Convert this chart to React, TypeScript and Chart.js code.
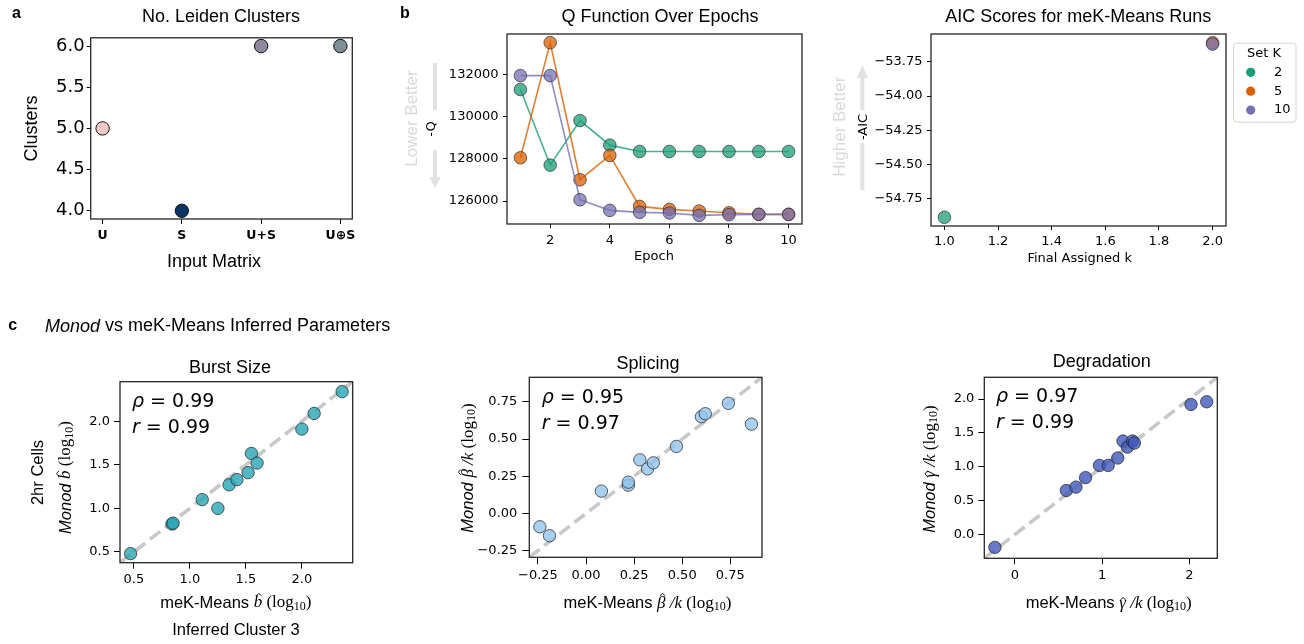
import React, { useEffect, useRef } from "react";
import { Chart, registerables } from "chart.js";
Chart.register(...registerables);

const SANS = '"Liberation Sans", Arial, sans-serif';
const DV = '"DejaVu Sans", sans-serif';
const SERIF = '"Liberation Serif", "DejaVu Serif", serif';

// ---------- data ----------
const leidenMatrices = ["U", "S", "U+S", "U\u2295S"];
const leidenClusters = [5, 4, 6, 6];
const leidenColors = ["#f9c8c5", "#0b3465", "#8e889f", "#7e8f95"];
const leidenYTicks = [4.0, 4.5, 5.0, 5.5, 6.0];

const epochs = [1, 2, 3, 4, 5, 6, 7, 8, 9, 10];
const qSetK2 = [131290, 127705, 129821, 128652, 128353, 128353, 128353, 128353, 128353, 128353];
const qSetK5 = [128053, 133516, 127011, 128163, 125747, 125605, 125526, 125447, 125368, 125368];
const qSetK10 = [131953, 131953, 126063, 125558, 125463, 125432, 125321, 125353, 125368, 125368];
const qXTicks = [2, 4, 6, 8, 10];
const qYTicks = [126000, 128000, 130000, 132000];

const setKLabels = ["2", "5", "10"];
const setKColors = ["#1b9e77", "#d95f02", "#7570b3"];
const aicFinalK = [1, 2, 2];
const aicNegScore = [-54.885, -53.61, -53.62];
const aicXTicks = [1.0, 1.2, 1.4, 1.6, 1.8, 2.0];
const aicYTicks = [-54.75, -54.5, -54.25, -54.0, -53.75];

const burstMek = [0.47, 0.84, 0.85, 1.11, 1.25, 1.35, 1.42, 1.52, 1.55, 1.6, 2.0, 2.11, 2.36];
const burstMonod = [0.48, 0.82, 0.83, 1.1, 1.0, 1.27, 1.33, 1.41, 1.63, 1.52, 1.91, 2.09, 2.34];
const splicingMek = [-0.24, -0.19, 0.08, 0.22, 0.22, 0.28, 0.32, 0.35, 0.47, 0.6, 0.62, 0.74, 0.86];
const splicingMonod = [-0.09, -0.15, 0.15, 0.19, 0.21, 0.36, 0.3, 0.34, 0.45, 0.65, 0.67, 0.74, 0.6];
const degradationMek = [-0.23, 0.59, 0.7, 0.81, 0.97, 1.07, 1.18, 1.24, 1.29, 1.35, 1.37, 2.02, 2.2];
const degradationMonod = [-0.19, 0.65, 0.7, 0.84, 1.02, 1.02, 1.13, 1.38, 1.29, 1.38, 1.35, 1.92, 1.96];
const burstTicks = [0.5, 1.0, 1.5, 2.0];
const splicingTicks = [-0.25, 0, 0.25, 0.5, 0.75];
const degradationXTicks = [0, 1, 2];
const degradationYTicks = [0, 0.5, 1.0, 1.5, 2.0];
const corrRho = ["0.99", "0.95", "0.97"];
const corrPearson = ["0.99", "0.97", "0.99"];

// ---------- helpers ----------
type Hat = { size: number; lift: number; dx: number };
type Part = { t: string; f: string; dy?: number; hat?: Hat };
type Deco =
  | { k: "text"; x: number; y: number; parts: Part[]; align: string; rot: number; c: string }
  | { k: "line"; x1: number; y1: number; x2: number; y2: number; w: number; c: string }
  | { k: "tri"; pts: number[]; c: string };

const P = (t: string, f: string, dy = 0, hat?: Hat): Part => ({ t, f, dy, hat });
const T = (x: number, y: number, parts: Part[], align = "center", rot = 0, c = "#000"): Deco => ({
  k: "text", x, y, parts, align, rot, c,
});
const font = (size: number, fam: string, style = "") => `${style} ${size}px ${fam}`.trim();

function rgba(hex: string, a: number) {
  const n = parseInt(hex.slice(1), 16);
  return `rgba(${(n >> 16) & 255},${(n >> 8) & 255},${n & 255},${a})`;
}
function fmt(v: number, d: number) {
  const s = Math.abs(v).toFixed(d);
  return (v < -1e-9 ? "\u2212" : "") + s;
}
function lims(...arrs: number[][]) {
  const all = arrs.flat();
  const lo = Math.min(...all), hi = Math.max(...all);
  const m = (hi - lo) * 0.05;
  return [lo - m, hi + m];
}

function decoPlugin(items: Deco[], ox: number, oy: number) {
  return {
    id: "deco",
    afterDraw(chart: any) {
      const ctx = chart.ctx as CanvasRenderingContext2D;
      for (const it of items) {
        ctx.save();
        if (it.k === "text") {
          ctx.translate(it.x - ox, it.y - oy);
          if (it.rot) ctx.rotate((it.rot * Math.PI) / 180);
          ctx.textBaseline = "middle";
          ctx.textAlign = "left";
          ctx.fillStyle = it.c;
          ctx.strokeStyle = it.c;
          let w = 0;
          for (const p of it.parts) { ctx.font = p.f; w += ctx.measureText(p.t).width; }
          let cx = it.align === "center" ? -w / 2 : it.align === "right" ? -w : 0;
          for (const p of it.parts) {
            ctx.font = p.f;
            const pw = ctx.measureText(p.t).width;
            ctx.fillText(p.t, cx, p.dy || 0);
            if (p.hat) {
              const s = p.hat.size;
              const hx = cx + pw / 2 + p.hat.dx * s;
              const hb = -p.hat.lift * s;
              ctx.lineWidth = 0.9;
              ctx.beginPath();
              ctx.moveTo(hx - 0.16 * s, hb);
              ctx.lineTo(hx, hb - 0.14 * s);
              ctx.lineTo(hx + 0.16 * s, hb);
              ctx.stroke();
            }
            cx += pw;
          }
        } else if (it.k === "line") {
          ctx.strokeStyle = it.c;
          ctx.lineWidth = it.w;
          ctx.beginPath();
          ctx.moveTo(it.x1 - ox, it.y1 - oy);
          ctx.lineTo(it.x2 - ox, it.y2 - oy);
          ctx.stroke();
        } else {
          ctx.fillStyle = it.c;
          ctx.beginPath();
          for (let i = 0; i < it.pts.length; i += 2) {
            const x = it.pts[i] - ox, y = it.pts[i + 1] - oy;
            if (i === 0) ctx.moveTo(x, y); else ctx.lineTo(x, y);
          }
          ctx.closePath();
          ctx.fill();
        }
        ctx.restore();
      }
    },
  };
}

const boxPlugin = {
  id: "box",
  afterDraw(chart: any) {
    const { left, top, right, bottom } = chart.chartArea;
    const ctx = chart.ctx;
    ctx.save();
    ctx.strokeStyle = "#262626";
    ctx.lineWidth = 1.3;
    ctx.strokeRect(left, top, right - left, bottom - top);
    ctx.restore();
  },
};

type Area = { left: number; top: number; right: number; bottom: number };

function axis(
  min: number, max: number, ticks: number[], label: (v: number) => string,
  fit: (s: any) => void, tickFont: any, tickLen: number, pad: number
) {
  return {
    type: "linear",
    min, max,
    afterBuildTicks: (s: any) => { s.ticks = ticks.map((v) => ({ value: v })); },
    afterFit: fit,
    ticks: { callback: (v: any) => label(Number(v)), font: tickFont, color: "#000", padding: pad, autoSkip: false, maxRotation: 0, minRotation: 0 },
    grid: { display: true, drawOnChartArea: false, drawTicks: true, tickLength: tickLen, tickColor: "#000", tickWidth: 1, color: "#000" },
    border: { display: false },
  };
}

function baseOptions(area: Area, W: number, H: number, scales: any) {
  return {
    animation: false,
    responsive: false,
    devicePixelRatio: 1,
    layout: { padding: { left: 0, top: area.top, right: W - area.right, bottom: 0 } },
    plugins: { legend: { display: false }, tooltip: { enabled: false }, title: { display: false } },
    scales,
  };
}

const tf = (size: number) => ({ family: DV, size });

// ---------- panel builders ----------
function buildLeiden(c: HTMLCanvasElement, ox: number, oy: number, W: number, H: number) {
  const area = { left: 90.7, top: 37.8, right: 352.3, bottom: 219 };
  const decos: Deco[] = [
    T(12, 13.5, [P("a", font(16, SANS, "bold"))], "left"),
    T(221, 17, [P("No. Leiden Clusters", font(18, SANS))]),
    T(31.7, 128.4, [P("Clusters", font(18, SANS))], "center", -90),
    T(214, 262.5, [P("Input Matrix", font(18, SANS))]),
  ];
  const [ylo, yhi] = lims(leidenClusters);
  return new Chart(c, {
    type: "scatter",
    data: {
      datasets: [{
        data: leidenClusters.map((v, i) => ({ x: i, y: v })),
        pointBackgroundColor: leidenColors,
        pointBorderColor: "#111",
        pointBorderWidth: 1,
        pointRadius: 6.7,
        clip: false,
      }],
    },
    options: baseOptions(area, W, H, {
      x: axis(-0.15, 3.15, [0, 1, 2, 3], (v) => leidenMatrices[Math.round(v)], (s) => { s.height = H - area.bottom; }, { family: DV, size: 12.5, weight: "bold" }, 5, 4.5),
      y: axis(ylo, yhi, leidenYTicks, (v) => v.toFixed(1), (s) => { s.width = area.left; }, tf(18), 4, 2),
    }) as any,
    plugins: [boxPlugin, decoPlugin(decos, ox, oy)],
  } as any);
}

function buildQ(c: HTMLCanvasElement, ox: number, oy: number, W: number, H: number) {
  const area = { left: 507, top: 34, right: 802, bottom: 224 };
  const a = { left: area.left - ox, top: area.top - oy, right: area.right - ox, bottom: area.bottom - oy };
  const grey = "#e2e2e2";
  const decos: Deco[] = [
    T(400, 13.5, [P("b", font(16, SANS, "bold"))], "left"),
    T(660, 17, [P("Q Function Over Epochs", font(18, SANS))]),
    T(654, 257, [P("Epoch", font(13, DV))]),
    T(432, 129, [P("-Q", font(13, DV))], "center", -90),
    T(412, 118.5, [P("Lower Better", font(17, SANS))], "center", -90, "#d9d9d9"),
    { k: "line", x1: 435, y1: 63, x2: 435, y2: 110, w: 4, c: grey },
    { k: "line", x1: 435, y1: 150, x2: 435, y2: 178, w: 4, c: grey },
    { k: "tri", pts: [429.3, 177, 440.7, 177, 435, 188], c: grey },
  ];
  const series = [qSetK2, qSetK5, qSetK10];
  const [xlo, xhi] = lims(epochs);
  const [ylo, yhi] = lims(qSetK2, qSetK5, qSetK10);
  return new Chart(c, {
    type: "scatter",
    data: {
      datasets: series.map((s, i) => ({
        data: s.map((v, j) => ({ x: epochs[j], y: v })),
        showLine: true,
        borderColor: rgba(setKColors[i], 0.8),
        borderWidth: 1.6,
        pointBackgroundColor: rgba(setKColors[i], 0.75),
        pointBorderColor: "rgba(40,40,40,0.65)",
        pointBorderWidth: 1,
        pointRadius: 6.3,
        order: 3 - i,
        clip: false,
      })),
    },
    options: baseOptions(a, W, H, {
      x: axis(xlo, xhi, qXTicks, (v) => String(v), (s) => { s.height = H - a.bottom; }, tf(13), 4, 5),
      y: axis(ylo, yhi, qYTicks, (v) => String(v), (s) => { s.width = a.left; }, tf(13), 4, 4.5),
    }) as any,
    plugins: [boxPlugin, decoPlugin(decos, ox, oy)],
  } as any);
}

function legendPlugin(ox: number, oy: number) {
  return {
    id: "klegend",
    afterDraw(chart: any) {
      const ctx = chart.ctx as CanvasRenderingContext2D;
      ctx.save();
      const x0 = 1233 - ox, y0 = 42.7 - oy, w = 62.5, h = 79;
      ctx.fillStyle = "rgba(255,255,255,0.8)";
      ctx.strokeStyle = "#d4d4d4";
      ctx.lineWidth = 1;
      ctx.beginPath();
      (ctx as any).roundRect(x0 + 0.5, y0 + 0.5, w, h, 3);
      ctx.fill();
      ctx.stroke();
      ctx.fillStyle = "#000";
      ctx.textBaseline = "middle";
      ctx.font = font(13, DV);
      ctx.textAlign = "center";
      ctx.fillText("Set K", 1264 - ox, 53.3 - oy);
      ctx.textAlign = "left";
      chart.data.datasets.forEach((d: any, i: number) => {
        const y = 72.3 + i * 18.9 - oy;
        ctx.fillStyle = d.solidColor;
        ctx.beginPath();
        ctx.arc(1250.7 - ox, y, 4.6, 0, Math.PI * 2);
        ctx.fill();
        ctx.fillStyle = "#000";
        ctx.fillText(d.label, 1274 - ox, y);
      });
      ctx.restore();
    },
  };
}

function buildAIC(c: HTMLCanvasElement, ox: number, oy: number, W: number, H: number) {
  const area = { left: 931, top: 34, right: 1226, bottom: 226 };
  const a = { left: area.left - ox, top: area.top - oy, right: area.right - ox, bottom: area.bottom - oy };
  const grey = "#e2e2e2";
  const decos: Deco[] = [
    T(1078.3, 17, [P("AIC Scores for meK-Means Runs", font(18, SANS))]),
    T(1079.7, 258.5, [P("Final Assigned k", font(13, DV))]),
    T(863.3, 127, [P("-AIC", font(13, DV))], "center", -90),
    T(840, 126.7, [P("Higher Better", font(17, SANS))], "center", -90, "#d9d9d9"),
    { k: "tri", pts: [856.6, 78, 868, 78, 862.3, 65], c: grey },
    { k: "line", x1: 862.3, y1: 77, x2: 862.3, y2: 110, w: 4, c: grey },
    { k: "line", x1: 862.3, y1: 143, x2: 862.3, y2: 190, w: 4, c: grey },
  ];
  const [xlo, xhi] = lims(aicFinalK);
  const [ylo, yhi] = lims(aicNegScore);
  return new Chart(c, {
    type: "scatter",
    data: {
      datasets: setKLabels.map((lab, i) => ({
        label: lab,
        solidColor: setKColors[i],
        data: [{ x: aicFinalK[i], y: aicNegScore[i] }],
        pointBackgroundColor: rgba(setKColors[i], 0.75),
        pointBorderColor: "rgba(40,40,40,0.65)",
        pointBorderWidth: 1,
        pointRadius: 6.3,
        order: 3 - i,
        clip: false,
      })),
    },
    options: baseOptions(a, W, H, {
      x: axis(xlo, xhi, aicXTicks, (v) => v.toFixed(1), (s) => { s.height = H - a.bottom; }, tf(13), 4, 4),
      y: axis(ylo, yhi, aicYTicks, (v) => fmt(v, 2), (s) => { s.width = a.left; }, tf(13), 4, 4.5),
    }) as any,
    plugins: [boxPlugin, decoPlugin(decos, ox, oy), legendPlugin(ox, oy)],
  } as any);
}

type ScatterCfg = {
  area: Area;
  xs: number[];
  ys: number[];
  color: string;
  xTicks: number[];
  yTicks: number[];
  xFmt: (v: number) => string;
  yFmt: (v: number) => string;
  yLen: number; yPad: number; xLen: number; xPad: number;
  decos: Deco[];
};

function buildParamScatter(c: HTMLCanvasElement, ox: number, oy: number, W: number, H: number, cfg: ScatterCfg) {
  const a = { left: cfg.area.left - ox, top: cfg.area.top - oy, right: cfg.area.right - ox, bottom: cfg.area.bottom - oy };
  const [lo, hi] = lims(cfg.xs, cfg.ys);
  return new Chart(c, {
    type: "scatter",
    data: {
      datasets: [
        {
          data: cfg.xs.map((x, i) => ({ x, y: cfg.ys[i] })),
          pointBackgroundColor: cfg.color,
          pointBorderColor: "rgba(30,30,30,0.7)",
          pointBorderWidth: 1,
          pointRadius: 6.2,
          clip: false,
        },
        {
          data: [{ x: lo, y: lo }, { x: hi, y: hi }],
          showLine: true,
          borderColor: "#c8c8c8",
          borderWidth: 3.6,
          borderDash: [13, 6],
          pointRadius: 0,
        },
      ],
    },
    options: baseOptions(a, W, H, {
      x: axis(lo, hi, cfg.xTicks, cfg.xFmt, (s) => { s.height = H - a.bottom; }, tf(13), cfg.xLen, cfg.xPad),
      y: axis(lo, hi, cfg.yTicks, cfg.yFmt, (s) => { s.width = a.left; }, tf(13), cfg.yLen, cfg.yPad),
    }) as any,
    plugins: [boxPlugin, decoPlugin(cfg.decos, ox, oy)],
  } as any);
}

const LBL = 16.5;
const SER = 17;
const SERI = font(SER, SERIF, "italic");
const logParts = (): Part[] => [
  P(" (log", font(SER, SERIF)),
  P("10", font(12, SERIF), 3.5),
  P(")", font(SER, SERIF)),
];
// hatted symbols (hat drawn as a small chevron above the glyph)
const bHat = (): Part[] => [P("b", SERI, 0, { size: SER, lift: 0.42, dx: 0.06 })];
const betaHat = (): Part[] => [P("\u03B2", SERI, 0, { size: SER, lift: 0.44, dx: 0.07 }), P(" /k", SERI)];
const gammaHat = (): Part[] => [P("\u03B3", SERI, 0, { size: SER, lift: 0.2, dx: 0.03 }), P(" /k", SERI)];

const corrText = (x: number, y1: number, y2: number, i: number): Deco[] => [
  T(x, y1, [P("\u03C1", font(19, DV, "italic")), P(" = " + corrRho[i], font(19, DV))], "left"),
  T(x, y2, [P("r", font(19, DV, "italic")), P(" = " + corrPearson[i], font(19, DV))], "left"),
];

function buildBurst(c: HTMLCanvasElement, ox: number, oy: number, W: number, H: number) {
  const decos: Deco[] = [
    T(8.3, 326, [P("c", font(16, SANS, "bold"))], "left"),
    T(45, 326.5, [P("Monod", font(18, SANS, "italic")), P(" vs meK-Means Inferred Parameters", font(18, SANS))], "left"),
    T(230, 368.5, [P("Burst Size", font(18, SANS))]),
    ...corrText(132, 401.7, 428.3, 0),
    T(38, 472.5, [P("2hr Cells", font(LBL, SANS))], "center", -90),
    T(66, 477.5, [P("Monod ", font(LBL, SANS, "italic")), ...bHat(), ...logParts()], "center", -90),
    T(235.8, 603, [P("meK-Means ", font(LBL, SANS)), ...bHat(), ...logParts()]),
    T(236, 630, [P("Inferred Cluster 3", font(LBL, SANS))]),
  ];
  return buildParamScatter(c, ox, oy, W, H, {
    area: { left: 120, top: 381.7, right: 352.7, bottom: 562.7 },
    xs: burstMek, ys: burstMonod, color: "rgba(40,165,180,0.8)",
    xTicks: burstTicks, yTicks: burstTicks,
    xFmt: (v) => v.toFixed(1), yFmt: (v) => v.toFixed(1),
    yLen: 6, yPad: 4, xLen: 6, xPad: 3,
    decos,
  });
}

function buildSplicing(c: HTMLCanvasElement, ox: number, oy: number, W: number, H: number) {
  const decos: Deco[] = [
    T(648, 364, [P("Splicing", font(18, SANS))]),
    ...corrText(541.7, 398.3, 424, 1),
    T(468.3, 468, [P("Monod ", font(LBL, SANS, "italic")), ...betaHat(), ...logParts()], "center", -90),
    T(647.5, 603.3, [P("meK-Means ", font(LBL, SANS)), ...betaHat(), ...logParts()]),
  ];
  return buildParamScatter(c, ox, oy, W, H, {
    area: { left: 529.3, top: 377.3, right: 762, bottom: 557.3 },
    xs: splicingMek, ys: splicingMonod, color: "rgba(148,196,236,0.8)",
    xTicks: splicingTicks, yTicks: splicingTicks,
    xFmt: (v) => fmt(v, 2), yFmt: (v) => fmt(v, 2),
    yLen: 7, yPad: 5, xLen: 7, xPad: 3.5,
    decos,
  });
}

function buildDegradation(c: HTMLCanvasElement, ox: number, oy: number, W: number, H: number) {
  const decos: Deco[] = [
    T(1101.8, 362.5, [P("Degradation", font(18, SANS))]),
    ...corrText(996, 397.3, 423.3, 2),
    T(930.7, 469, [P("Monod ", font(LBL, SANS, "italic")), ...gammaHat(), ...logParts()], "center", -90),
    T(1108.7, 603.3, [P("meK-Means ", font(LBL, SANS)), ...gammaHat(), ...logParts()]),
  ];
  return buildParamScatter(c, ox, oy, W, H, {
    area: { left: 984.3, top: 377.3, right: 1217.3, bottom: 558.3 },
    xs: degradationMek, ys: degradationMonod, color: "rgba(65,87,188,0.8)",
    xTicks: degradationXTicks, yTicks: degradationYTicks,
    xFmt: (v) => String(Math.round(v)), yFmt: (v) => v.toFixed(1),
    yLen: 6, yPad: 4, xLen: 6, xPad: 4,
    decos,
  });
}

type Builder = (c: HTMLCanvasElement, ox: number, oy: number, W: number, H: number) => Chart;

function Panel({ left, top, width, height, build }: { left: number; top: number; width: number; height: number; build: Builder }) {
  const ref = useRef<HTMLCanvasElement>(null);
  useEffect(() => {
    const chart = build(ref.current as HTMLCanvasElement, left, top, width, height);
    return () => chart.destroy();
  }, []);
  return (
    <canvas
      ref={ref}
      width={width}
      height={height}
      style={{ position: "absolute", left, top, width, height, display: "block" }}
    />
  );
}

export default function App() {
  return (
    <div style={{ position: "absolute", left: 0, top: 0, width: 1304, height: 644, background: "#fff", overflow: "hidden" }}>
      <Panel left={0} top={0} width={380} height={290} build={buildLeiden} />
      <Panel left={380} top={0} width={450} height={290} build={buildQ} />
      <Panel left={830} top={0} width={474} height={290} build={buildAIC} />
      <Panel left={0} top={300} width={440} height={344} build={buildBurst} />
      <Panel left={440} top={300} width={420} height={344} build={buildSplicing} />
      <Panel left={860} top={300} width={444} height={344} build={buildDegradation} />
    </div>
  );
}
